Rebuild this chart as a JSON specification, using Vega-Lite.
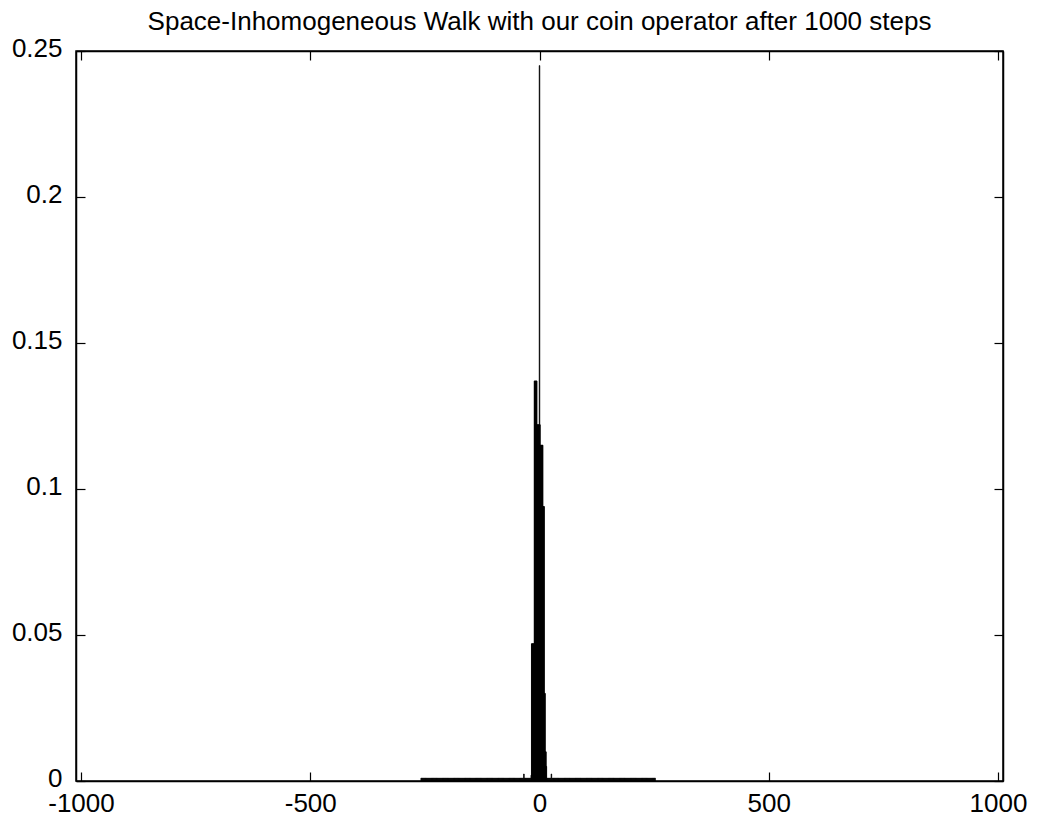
{
  "$schema": "https://vega.github.io/schema/vega-lite/v6.json",
  "width": 927,
  "height": 730,
  "autosize": "none",
  "padding": {"left": 76, "top": 51, "right": 35, "bottom": 38},
  "background": "white",
  "title": {
    "text": "Space-Inhomogeneous Walk with our coin operator after 1000 steps",
    "font": "Liberation Sans",
    "fontSize": 26,
    "fontWeight": "normal",
    "color": "black",
    "anchor": "middle",
    "baseline": "alphabetic",
    "offset": -21
  },
  "config": {
    "view": {"stroke": "black", "strokeWidth": 1.5},
    "axis": {
      "labelFont": "Liberation Sans",
      "labelFontSize": 26,
      "labelColor": "black",
      "domainColor": "black",
      "domainWidth": 1.5,
      "tickColor": "black",
      "tickWidth": 1.2,
      "tickSize": -9,
      "grid": false,
      "title": null
    }
  },
  "data": {
    "values": [
      {"x": -258, "p": 0.001}, {"x": -256, "p": 0.001}, {"x": -254, "p": 0.001}, {"x": -252, "p": 0.001}, {"x": -250, "p": 0.001},
      {"x": -248, "p": 0.001}, {"x": -246, "p": 0.001}, {"x": -244, "p": 0.001}, {"x": -242, "p": 0.001}, {"x": -240, "p": 0.001},
      {"x": -238, "p": 0.001}, {"x": -236, "p": 0.001}, {"x": -234, "p": 0.001}, {"x": -232, "p": 0.001}, {"x": -230, "p": 0.001},
      {"x": -228, "p": 0.001}, {"x": -226, "p": 0.001}, {"x": -224, "p": 0.001}, {"x": -222, "p": 0.001}, {"x": -220, "p": 0.001},
      {"x": -218, "p": 0.001}, {"x": -216, "p": 0.001}, {"x": -214, "p": 0.001}, {"x": -212, "p": 0.001}, {"x": -210, "p": 0.001},
      {"x": -208, "p": 0.001}, {"x": -206, "p": 0.001}, {"x": -204, "p": 0.001}, {"x": -202, "p": 0.001}, {"x": -200, "p": 0.001},
      {"x": -198, "p": 0.001}, {"x": -196, "p": 0.001}, {"x": -194, "p": 0.001}, {"x": -192, "p": 0.001}, {"x": -190, "p": 0.001},
      {"x": -188, "p": 0.001}, {"x": -186, "p": 0.001}, {"x": -184, "p": 0.001}, {"x": -182, "p": 0.001}, {"x": -180, "p": 0.001},
      {"x": -178, "p": 0.001}, {"x": -176, "p": 0.001}, {"x": -174, "p": 0.001}, {"x": -172, "p": 0.001}, {"x": -170, "p": 0.001},
      {"x": -168, "p": 0.001}, {"x": -166, "p": 0.001}, {"x": -164, "p": 0.001}, {"x": -162, "p": 0.001}, {"x": -160, "p": 0.001},
      {"x": -158, "p": 0.001}, {"x": -156, "p": 0.001}, {"x": -154, "p": 0.001}, {"x": -152, "p": 0.001}, {"x": -150, "p": 0.001},
      {"x": -148, "p": 0.001}, {"x": -146, "p": 0.001}, {"x": -144, "p": 0.001}, {"x": -142, "p": 0.001}, {"x": -140, "p": 0.001},
      {"x": -138, "p": 0.001}, {"x": -136, "p": 0.001}, {"x": -134, "p": 0.001}, {"x": -132, "p": 0.001}, {"x": -130, "p": 0.001},
      {"x": -128, "p": 0.001}, {"x": -126, "p": 0.001}, {"x": -124, "p": 0.001}, {"x": -122, "p": 0.001}, {"x": -120, "p": 0.001},
      {"x": -118, "p": 0.001}, {"x": -116, "p": 0.001}, {"x": -114, "p": 0.001}, {"x": -112, "p": 0.001}, {"x": -110, "p": 0.001},
      {"x": -108, "p": 0.001}, {"x": -106, "p": 0.001}, {"x": -104, "p": 0.001}, {"x": -102, "p": 0.001}, {"x": -100, "p": 0.001},
      {"x": -98, "p": 0.001}, {"x": -96, "p": 0.001}, {"x": -94, "p": 0.001}, {"x": -92, "p": 0.001}, {"x": -90, "p": 0.001},
      {"x": -88, "p": 0.001}, {"x": -86, "p": 0.001}, {"x": -84, "p": 0.001}, {"x": -82, "p": 0.001}, {"x": -80, "p": 0.001},
      {"x": -78, "p": 0.001}, {"x": -76, "p": 0.001}, {"x": -74, "p": 0.001}, {"x": -72, "p": 0.001}, {"x": -70, "p": 0.001},
      {"x": -68, "p": 0.001}, {"x": -66, "p": 0.001}, {"x": -64, "p": 0.001}, {"x": -62, "p": 0.001}, {"x": -60, "p": 0.001},
      {"x": -58, "p": 0.001}, {"x": -56, "p": 0.001}, {"x": -54, "p": 0.001}, {"x": -52, "p": 0.001}, {"x": -50, "p": 0.001},
      {"x": -48, "p": 0.001}, {"x": -46, "p": 0.001}, {"x": -44, "p": 0.001}, {"x": -42, "p": 0.001}, {"x": -40, "p": 0.001},
      {"x": -38, "p": 0.001}, {"x": -36, "p": 0.001}, {"x": -34, "p": 0.0024}, {"x": -32, "p": 0.001}, {"x": -30, "p": 0.001},
      {"x": -28, "p": 0.001}, {"x": -26, "p": 0.001}, {"x": -24, "p": 0.001}, {"x": -22, "p": 0.001}, {"x": -20, "p": 0.001},
      {"x": -18, "p": 0.002},
      {"x": -17, "p": 0.047}, {"x": -16, "p": 0.047}, {"x": -15, "p": 0.047}, {"x": -14, "p": 0.047}, {"x": -13, "p": 0.047}, {"x": -12, "p": 0.047},
      {"x": -11, "p": 0.137}, {"x": -10, "p": 0.137}, {"x": -9, "p": 0.137}, {"x": -8, "p": 0.137}, {"x": -7, "p": 0.137}, {"x": -6, "p": 0.137},
      {"x": -5, "p": 0.122}, {"x": -4, "p": 0.122}, {"x": -3, "p": 0.122}, {"x": -2, "p": 0.122}, {"x": -1, "p": 0.122},
      {"x": 0, "p": 0.245},
      {"x": 1, "p": 0.122}, {"x": 2, "p": 0.115}, {"x": 3, "p": 0.115}, {"x": 4, "p": 0.115}, {"x": 5, "p": 0.115}, {"x": 6, "p": 0.115}, {"x": 7, "p": 0.115},
      {"x": 8, "p": 0.094}, {"x": 9, "p": 0.094}, {"x": 10, "p": 0.094},
      {"x": 11, "p": 0.03}, {"x": 12, "p": 0.03}, {"x": 13, "p": 0.01}, {"x": 14, "p": 0.01}, {"x": 15, "p": 0.005},
      {"x": 16, "p": 0.001}, {"x": 18, "p": 0.001}, {"x": 20, "p": 0.001}, {"x": 22, "p": 0.001}, {"x": 24, "p": 0.001},
      {"x": 26, "p": 0.0024}, {"x": 28, "p": 0.001}, {"x": 30, "p": 0.001}, {"x": 32, "p": 0.001}, {"x": 34, "p": 0.001},
      {"x": 36, "p": 0.001}, {"x": 38, "p": 0.001}, {"x": 40, "p": 0.001}, {"x": 42, "p": 0.001}, {"x": 44, "p": 0.001},
      {"x": 46, "p": 0.001}, {"x": 48, "p": 0.001}, {"x": 50, "p": 0.001}, {"x": 52, "p": 0.001}, {"x": 54, "p": 0.001},
      {"x": 56, "p": 0.001}, {"x": 58, "p": 0.001}, {"x": 60, "p": 0.001}, {"x": 62, "p": 0.001}, {"x": 64, "p": 0.001},
      {"x": 66, "p": 0.001}, {"x": 68, "p": 0.001}, {"x": 70, "p": 0.001}, {"x": 72, "p": 0.001}, {"x": 74, "p": 0.001},
      {"x": 76, "p": 0.001}, {"x": 78, "p": 0.001}, {"x": 80, "p": 0.001}, {"x": 82, "p": 0.001}, {"x": 84, "p": 0.001},
      {"x": 86, "p": 0.001}, {"x": 88, "p": 0.001}, {"x": 90, "p": 0.001}, {"x": 92, "p": 0.001}, {"x": 94, "p": 0.001},
      {"x": 96, "p": 0.001}, {"x": 98, "p": 0.001}, {"x": 100, "p": 0.001}, {"x": 102, "p": 0.001}, {"x": 104, "p": 0.001},
      {"x": 106, "p": 0.001}, {"x": 108, "p": 0.001}, {"x": 110, "p": 0.001}, {"x": 112, "p": 0.001}, {"x": 114, "p": 0.001},
      {"x": 116, "p": 0.001}, {"x": 118, "p": 0.001}, {"x": 120, "p": 0.001}, {"x": 122, "p": 0.001}, {"x": 124, "p": 0.001},
      {"x": 126, "p": 0.001}, {"x": 128, "p": 0.001}, {"x": 130, "p": 0.001}, {"x": 132, "p": 0.001}, {"x": 134, "p": 0.001},
      {"x": 136, "p": 0.001}, {"x": 138, "p": 0.001}, {"x": 140, "p": 0.001}, {"x": 142, "p": 0.001}, {"x": 144, "p": 0.001},
      {"x": 146, "p": 0.001}, {"x": 148, "p": 0.001}, {"x": 150, "p": 0.001}, {"x": 152, "p": 0.001}, {"x": 154, "p": 0.001},
      {"x": 156, "p": 0.001}, {"x": 158, "p": 0.001}, {"x": 160, "p": 0.001}, {"x": 162, "p": 0.001}, {"x": 164, "p": 0.001},
      {"x": 166, "p": 0.001}, {"x": 168, "p": 0.001}, {"x": 170, "p": 0.001}, {"x": 172, "p": 0.001}, {"x": 174, "p": 0.001},
      {"x": 176, "p": 0.001}, {"x": 178, "p": 0.001}, {"x": 180, "p": 0.001}, {"x": 182, "p": 0.001}, {"x": 184, "p": 0.001},
      {"x": 186, "p": 0.001}, {"x": 188, "p": 0.001}, {"x": 190, "p": 0.001}, {"x": 192, "p": 0.001}, {"x": 194, "p": 0.001},
      {"x": 196, "p": 0.001}, {"x": 198, "p": 0.001}, {"x": 200, "p": 0.001}, {"x": 202, "p": 0.001}, {"x": 204, "p": 0.001},
      {"x": 206, "p": 0.001}, {"x": 208, "p": 0.001}, {"x": 210, "p": 0.001}, {"x": 212, "p": 0.001}, {"x": 214, "p": 0.001},
      {"x": 216, "p": 0.001}, {"x": 218, "p": 0.001}, {"x": 220, "p": 0.001}, {"x": 222, "p": 0.001}, {"x": 224, "p": 0.001},
      {"x": 226, "p": 0.001}, {"x": 228, "p": 0.001}, {"x": 230, "p": 0.001}, {"x": 232, "p": 0.001}, {"x": 234, "p": 0.001},
      {"x": 236, "p": 0.001}, {"x": 238, "p": 0.001}, {"x": 240, "p": 0.001}, {"x": 242, "p": 0.001}, {"x": 244, "p": 0.001},
      {"x": 246, "p": 0.001}, {"x": 248, "p": 0.001}, {"x": 250, "p": 0.001}, {"x": 252, "p": 0.001}
    ]
  },
  "encoding": {
    "x": {"field": "x", "type": "quantitative", "scale": {"domain": [-1000, 1000], "nice": false, "zero": false}},
    "y": {"field": "p", "type": "quantitative", "scale": {"domain": [0, 0.25], "nice": false}}
  },
  "layer": [
    {
      "mark": {"type": "bar", "width": 0.5, "fill": "black", "stroke": "black", "strokeWidth": 0.8},
      "encoding": {
        "x": {"field": "x", "type": "quantitative", "axis": {"orient": "bottom", "values": [-1000, -500, 0, 500, 1000], "labelExpr": "'' + datum.value", "labelPadding": 18, "labelFlush": false}},
        "y": {"field": "p", "type": "quantitative", "axis": {"orient": "left", "values": [0, 0.05, 0.1, 0.15, 0.2, 0.25], "labelExpr": "'' + datum.value", "labelPadding": 23, "labelOffset": -3, "labelFlush": false}}
      }
    },
    {
      "mark": {"type": "point", "opacity": 0},
      "encoding": {
        "x": {"field": "x", "type": "quantitative", "axis": {"orient": "top", "values": [-1000, -500, 0, 500, 1000], "labels": false}},
        "y": {"field": "p", "type": "quantitative", "axis": {"orient": "right", "values": [0, 0.05, 0.1, 0.15, 0.2, 0.25], "labels": false}}
      }
    }
  ]
}
